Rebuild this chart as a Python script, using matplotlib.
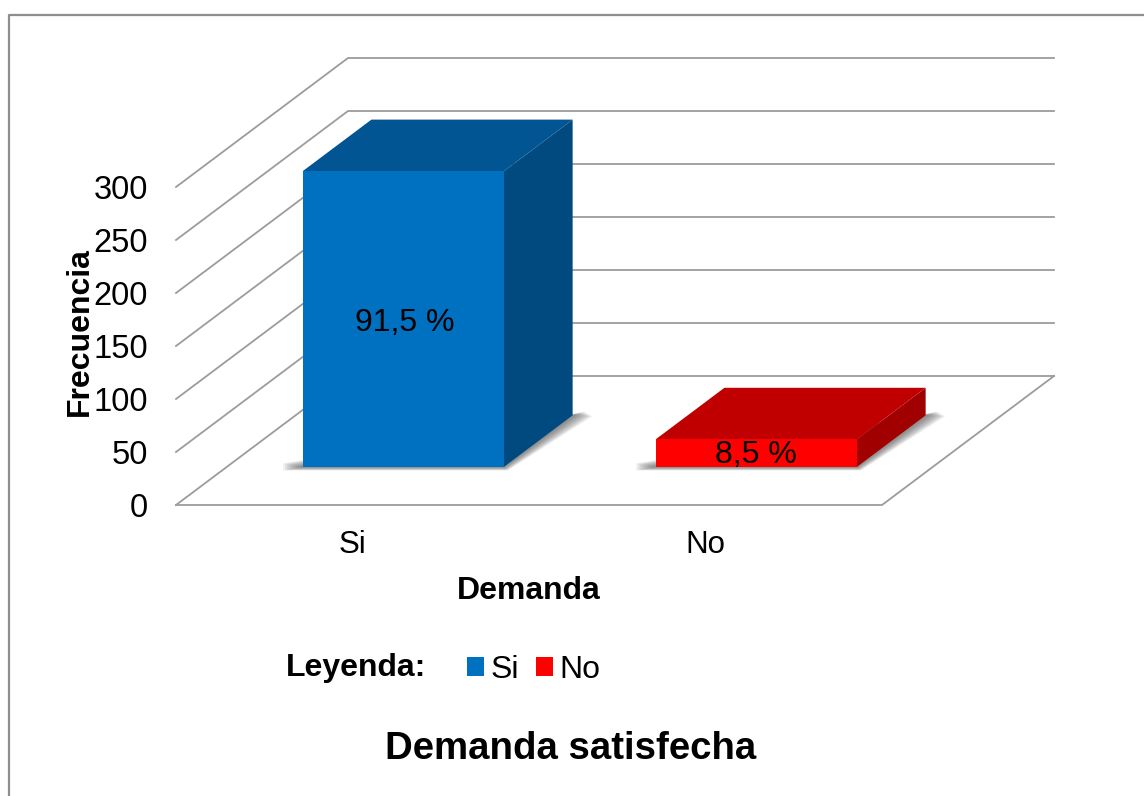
import matplotlib
matplotlib.use("Agg")
import matplotlib.pyplot as plt
from matplotlib.lines import Line2D
from matplotlib.patches import Patch, Polygon

plt.rcParams['font.family'] = ['Liberation Sans', 'DejaVu Sans']

categories = ["Si", "No"]
values = [279, 26]
percent_labels = ["91,5 %", "8,5 %"]
y_ticks = [0, 50, 100, 150, 200, 250, 300]

front_colors = ["#0070C0", "#FF0000"]
top_colors = ["#005592", "#C00000"]
side_colors = ["#004A80", "#A00000"]
grid_color = "#9C9C9C"

W, H = 1144, 796
# depth offset of the whole floor, in data units
DEPTH_X = 172 / 353
DEPTH_Y = 129 / (318 / 300)
BAR_WIDTH = 0.57
D0, D1 = 0.295, 0.695


def proj(x, y, d):
    return x + d * DEPTH_X, y + d * DEPTH_Y


def face(ax, pts, color, z):
    ax.add_patch(Polygon([proj(*p) for p in pts], closed=True, facecolor=color,
                         edgecolor="none", zorder=z, clip_on=False))


fig = plt.figure(figsize=(W / 100, H / 100), dpi=100, facecolor="white")
ax = fig.add_axes([176 / W, (H - 505) / H, 706 / W, 318 / H])
ax.set_xlim(0, 2)
ax.set_ylim(0, 300)
ax.patch.set_visible(False)
for s in ax.spines.values():
    s.set_visible(False)

# walls and floor
for t in y_ticks:
    pts = [proj(0, t, 0), proj(0, t, 1), proj(2, t, 1)]
    ax.plot(*zip(*pts), color=grid_color, lw=1.3, zorder=1, clip_on=False)
ax.plot(*zip(*[proj(0, 0, 0), proj(2, 0, 0), proj(2, 0, 1)]), color=grid_color,
        lw=1.3, zorder=1, clip_on=False)

# bars
for i, v in enumerate(values):
    x0 = i + 0.5 - BAR_WIDTH / 2
    x1 = x0 + BAR_WIDTH
    # soft shadow on the floor
    for k in range(10):
        off = 0.055 - k * 0.0052
        lift = off * 60
        ax.add_patch(Polygon([proj(x0 - off, -lift, D0), proj(x1 + off * 0.2, -lift, D0),
                              proj(x1 + off, -lift * 0.3, D1), proj(x1 + off * 0.6, lift, D1),
                              proj(x0 - off, lift, D0)],
                     closed=True, facecolor="#505050", alpha=0.09, edgecolor="none",
                     zorder=2, clip_on=False))
    face(ax, [(x1, 0, D0), (x1, 0, D1), (x1, v, D1), (x1, v, D0)], side_colors[i], 3)
    face(ax, [(x0, v, D0), (x1, v, D0), (x1, v, D1), (x0, v, D1)], top_colors[i], 3)
    face(ax, [(x0, 0, D0), (x1, 0, D0), (x1, v, D0), (x0, v, D0)], front_colors[i], 4)

ax.text(*proj(0.503, 136, D0), percent_labels[0], ha="center", va="center",
        fontsize=23, color="black", zorder=6)
ax.text(*proj(1.5, 11, D0), percent_labels[1], ha="center", va="center",
        fontsize=23, color="black", zorder=6)

ax.set_yticks(y_ticks)
ax.set_xticks([0.5, 1.5])
ax.set_xticklabels(categories)
ax.tick_params(axis="y", length=0, pad=20, labelsize=23.5)
ax.tick_params(axis="x", length=0, pad=18, labelsize=22.5)

ax.set_ylabel("Frecuencia", fontsize=23, fontweight="bold", va="center")
ax.yaxis.set_label_coords((80 - 176) / 706, (505 - 332) / 318)
ax.set_xlabel("Demanda", fontsize=23, fontweight="bold", va="center")
ax.xaxis.set_label_coords((529 - 176) / 706, (505 - 591) / 318)

# legend row
fig.text(356.5 / W, 1 - 668 / H, "Leyenda:", ha="center", va="center", fontsize=23,
         fontweight="bold")
handles = [Patch(facecolor=c, edgecolor="none", label=n) for c, n in zip(front_colors, categories)]
fig.legend(handles=handles, loc="center left", bbox_to_anchor=(467 / W, 1 - 670 / H),
           ncol=2, frameon=False, fontsize=23, handlelength=0.53, handleheight=0.53,
           handletextpad=0.2, columnspacing=0.55, borderpad=0, borderaxespad=0)

fig.text(571 / W, 1 - 749 / H, "Demanda satisfecha", ha="center", va="center", fontsize=27.6,
         fontweight="bold")

# outer frame, right and bottom run off the picture
fig.add_artist(Line2D([9 / W, 9 / W, 1], [0, 1 - 15 / H, 1 - 15 / H], color="#8E8E8E", lw=1.6))

fig.savefig("out.png", dpi=100)
